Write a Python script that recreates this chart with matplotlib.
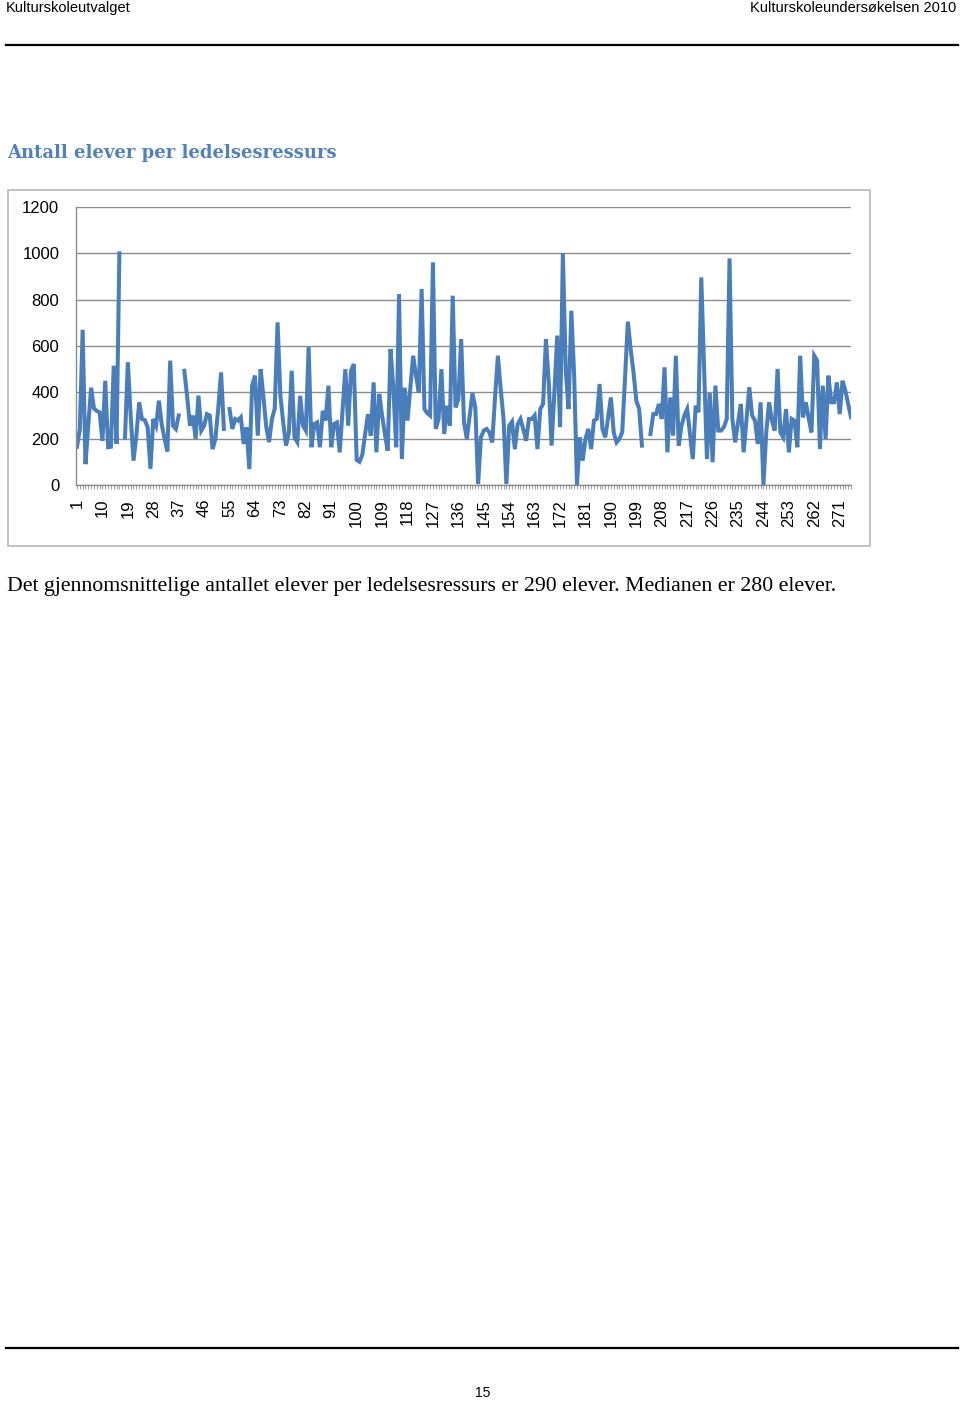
import numpy as np
import matplotlib
matplotlib.use("Agg")
import matplotlib.pyplot as plt
from matplotlib.lines import Line2D
from matplotlib.patches import Rectangle

# pupils per management resource, one value per school (nan = no answer)
nan = np.nan
elever = [
    165, 240, 670, 90, 260, 420, 330, 320, 314, 190,
    450, 163, 165, 515, 177, 1000, nan, 206, 530, 300,
    105, 210, 357, 285, 280, 250, 70, 285, 256, 364,
    260, 200, 145, 537, 256, 242, 300, nan, 493, 380,
    256, 300, 199, 386, 235, 256, 306, 300, 155, 199,
    330, 486, 242, nan, 328, 242, 285, 278, 292, 177,
    249, 69, 429, 472, 213, 500, 380, 250, 185, 285,
    330, 702, 385, 270, 170, 227, 493, 205, 185, 385,
    256, 235, 595, 163, 263, 270, 163, 320, 278, 429,
    163, 263, 270, 141, 320, 500, 256, 493, 522, 108,
    100, 130, 220, 306, 213, 443, 141, 393, 300, 220,
    148, 587, 414, 163, 824, 112, 420, 278, 420, 558,
    472, 400, 846, 328, 310, 300, 961, 242, 285, 500,
    220, 342, 256, 817, 335, 371, 630, 270, 199, 300,
    397, 335, 4, 206, 235, 242, 227, 184, 380, 558,
    414, 285, 4, 256, 273, 155, 263, 285, 240, 191,
    285, 285, 300, 155, 328, 350, 630, 443, 170, 400,
    645, 250, 1000, 500, 328, 752, 472, 0, 206, 105,
    199, 242, 155, 278, 285, 436, 242, 206, 290, 378,
    227, 184, 199, 227, 460, 705, 587, 486, 364, 328,
    170, nan, nan, 220, 306, 306, 350, 285, 508, 141,
    378, 213, 558, 170, 256, 300, 328, 220, 112, 342,
    314, 896, 500, 112, 397, 98, 429, 235, 235, 250,
    285, 978, 285, 184, 270, 350, 141, 280, 422, 300,
    278, 177, 357, 0, 227, 357, 278, 235, 501, 227,
    206, 328, 141, 285, 278, 163, 558, 292, 357, 290,
    227, 558, 537, 155, 429, 199, 472, 357, 357, 443,
    306, 450, 407, 350, 292,
]
skoler = np.arange(1, len(elever) + 1)
x_etiketter = skoler[::9]
y_ticks = [0, 200, 400, 600, 800, 1000, 1200]

W, H = 960, 1402
fig = plt.figure(figsize=(W / 100, H / 100), dpi=100)


def fx(px):
    return px / W


def fy(py):
    return 1 - py / H


# page header / footer
fig.text(fx(6), fy(8), "Kulturskoleutvalget", family="Liberation Sans",
         fontsize=10.5, ha="left", va="center")
fig.text(fx(956), fy(8), "Kulturskoleundersøkelsen 2010", family="Liberation Sans",
         fontsize=10.5, ha="right", va="center")
fig.add_artist(Line2D([fx(6), fx(958)], [fy(45), fy(45)], color="black", lw=1.6))
fig.add_artist(Line2D([fx(6), fx(958)], [fy(1348), fy(1348)], color="black", lw=1.6))
fig.text(fx(483), fy(1393), "15", family="Liberation Sans", fontsize=10,
         ha="center", va="center")

# heading
fig.text(fx(7), fy(153), "Antall elever per ledelsesressurs", family="DejaVu Serif",
         fontweight="bold", fontsize=13, color="#4F81BD", ha="left", va="center")

# chart frame
fig.patches.append(Rectangle((fx(8), fy(546)), fx(870) - fx(8), fy(190) - fy(546),
                             transform=fig.transFigure, fill=False,
                             edgecolor="#B8B8B8", lw=1.2))

ax = fig.add_axes([fx(76), fy(485), fx(851) - fx(76), fy(207) - fy(485)])
ax.plot(skoler, elever, color="#4A7EBB", lw=2.9, solid_joinstyle="miter")

ax.set_xlim(1 - 1 / 2.825, len(elever))
ax.set_ylim(0, 1200)
ax.set_yticks(y_ticks)
ax.yaxis.grid(True, color="#8C8C8C", lw=1.0)
ax.set_axisbelow(True)
ax.set_xticks(x_etiketter)
ax.set_xticklabels([str(v) for v in x_etiketter], rotation=90)
ax.set_xticks(skoler, minor=True)

for side in ("top", "right"):
    ax.spines[side].set_visible(False)
for side in ("left", "bottom"):
    ax.spines[side].set_color("#8C8C8C")
    ax.spines[side].set_linewidth(1.0)

ax.tick_params(axis="x", which="both", length=3, color="#8C8C8C", width=0.6)
ax.tick_params(axis="x", which="major", pad=7)
ax.tick_params(axis="y", length=0, pad=12)
for lbl in ax.get_xticklabels() + ax.get_yticklabels():
    lbl.set_family("Liberation Sans")
    lbl.set_fontsize(12)

# body text
fig.text(fx(7), fy(586),
         "Det gjennomsnittelige antallet elever per ledelsesressurs er 290 elever. "
         "Medianen er 280 elever.",
         family="Liberation Serif", fontsize=15.7, ha="left", va="center")

fig.savefig("out.png", dpi=100)
